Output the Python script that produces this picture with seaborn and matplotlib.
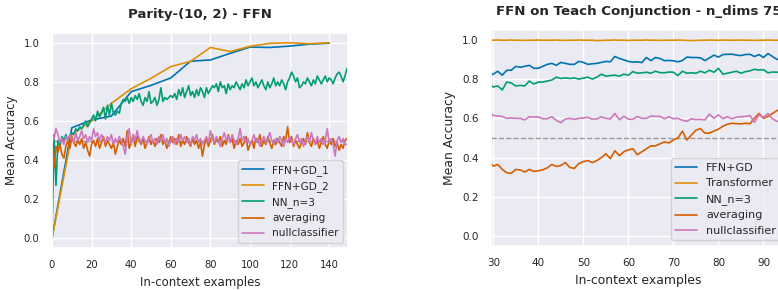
import numpy as np
import pandas as pd
import matplotlib
matplotlib.use("Agg")
import matplotlib.pyplot as plt
import seaborn as sns

# ---------------- Left panel data: Parity-(10, 2) - FFN ----------------
gd_x = [0, 10, 20, 30, 40, 50, 60, 70, 80, 90, 100, 110, 120, 130, 140]
ffn_gd_1 = [0.0, 0.565, 0.605, 0.625, 0.75, 0.782, 0.82, 0.906, 0.912, 0.946, 0.978, 0.976, 0.983, 0.993, 0.998]
ffn_gd_2 = [0.0, 0.53, 0.60, 0.69, 0.765, 0.818, 0.878, 0.905, 0.976, 0.955, 0.982, 0.997, 1.0, 0.995, 1.0]

left_x = list(range(150))
nn_left = [
    0.00, 0.53, 0.27, 0.50, 0.47, 0.52, 0.50, 0.53, 0.50, 0.52,
    0.54, 0.53, 0.56, 0.55, 0.57, 0.56, 0.58, 0.60, 0.57, 0.59,
    0.61, 0.63, 0.60, 0.65, 0.62, 0.64, 0.67, 0.61, 0.68, 0.63,
    0.69, 0.64, 0.63, 0.65, 0.64, 0.69, 0.71, 0.70, 0.72, 0.69,
    0.72, 0.70, 0.73, 0.71, 0.74, 0.70, 0.68, 0.72, 0.70, 0.75,
    0.69, 0.70, 0.72, 0.68, 0.71, 0.77, 0.70, 0.72, 0.71, 0.72,
    0.73, 0.72, 0.74, 0.71, 0.76, 0.73, 0.77, 0.72, 0.75, 0.78,
    0.73, 0.75, 0.72, 0.76, 0.73, 0.77, 0.75, 0.72, 0.77, 0.74,
    0.76, 0.78, 0.77, 0.79, 0.75, 0.80, 0.77, 0.78, 0.74, 0.79,
    0.76, 0.78, 0.77, 0.80, 0.78, 0.76, 0.79, 0.77, 0.81, 0.78,
    0.80, 0.82, 0.78, 0.80, 0.77, 0.79, 0.81, 0.78, 0.76, 0.80,
    0.77, 0.79, 0.82, 0.78, 0.80, 0.78, 0.81, 0.79, 0.76, 0.80,
    0.82, 0.85, 0.83, 0.80, 0.82, 0.77, 0.78, 0.80, 0.79, 0.82,
    0.80, 0.78, 0.81, 0.79, 0.83, 0.81, 0.79, 0.81, 0.83, 0.80,
    0.82, 0.81, 0.79, 0.82, 0.84, 0.85, 0.83, 0.80, 0.83, 0.87,
]
avg_left = [
    0.48, 0.36, 0.47, 0.44, 0.48, 0.43, 0.41, 0.47, 0.50, 0.46,
    0.52, 0.49, 0.47, 0.50, 0.48, 0.51, 0.46, 0.49, 0.45, 0.42,
    0.48, 0.50, 0.47, 0.51, 0.46, 0.49, 0.52, 0.47, 0.50, 0.48,
    0.46, 0.49, 0.43, 0.47, 0.50, 0.48, 0.51, 0.47, 0.55, 0.46,
    0.49, 0.53, 0.47, 0.52, 0.50, 0.48, 0.51, 0.46, 0.49, 0.52,
    0.48, 0.50, 0.47, 0.51, 0.49, 0.53, 0.48, 0.50, 0.46, 0.49,
    0.52, 0.49, 0.51, 0.48, 0.53, 0.47, 0.50, 0.48, 0.52, 0.49,
    0.47, 0.51, 0.48, 0.50, 0.46, 0.49, 0.42, 0.48, 0.51, 0.47,
    0.50, 0.53, 0.48, 0.51, 0.49, 0.52, 0.47, 0.50, 0.48, 0.53,
    0.49, 0.51, 0.46, 0.50, 0.48, 0.51, 0.47, 0.49, 0.52, 0.45,
    0.48, 0.50, 0.46, 0.51, 0.49, 0.53, 0.47, 0.50, 0.48, 0.52,
    0.49, 0.46, 0.50, 0.48, 0.51, 0.49, 0.47, 0.52, 0.50, 0.57,
    0.49, 0.52, 0.47, 0.50, 0.48, 0.46, 0.49, 0.51, 0.48, 0.54,
    0.49, 0.47, 0.51, 0.48, 0.50, 0.46, 0.49, 0.52, 0.48, 0.46,
    0.50, 0.48, 0.51, 0.47, 0.49, 0.45, 0.48, 0.46, 0.50, 0.51,
]
null_left = [
    0.49, 0.51, 0.56, 0.53, 0.49, 0.51, 0.48, 0.52, 0.50, 0.53,
    0.51, 0.49, 0.54, 0.50, 0.52, 0.55, 0.51, 0.53, 0.49, 0.52,
    0.50, 0.56, 0.52, 0.54, 0.50, 0.53, 0.51, 0.49, 0.52, 0.50,
    0.53, 0.48, 0.51, 0.49, 0.52, 0.50, 0.47, 0.43, 0.52, 0.56,
    0.48, 0.53, 0.50, 0.55, 0.51, 0.49, 0.52, 0.50, 0.48, 0.51,
    0.53, 0.49, 0.51, 0.48, 0.52, 0.50, 0.53, 0.49, 0.51, 0.47,
    0.50, 0.52, 0.48, 0.51, 0.49, 0.53, 0.50, 0.52, 0.49, 0.51,
    0.48, 0.52, 0.50, 0.53, 0.49, 0.51, 0.48, 0.50, 0.52, 0.49,
    0.55, 0.51, 0.49, 0.52, 0.50, 0.47, 0.51, 0.54, 0.50, 0.52,
    0.49, 0.53, 0.50, 0.48, 0.51, 0.56, 0.50, 0.52, 0.49, 0.51,
    0.48, 0.50, 0.53, 0.49, 0.51, 0.47, 0.50, 0.52, 0.49, 0.51,
    0.54, 0.50, 0.48, 0.51, 0.49, 0.52, 0.50, 0.47, 0.51, 0.49,
    0.52, 0.50, 0.48, 0.51, 0.53, 0.49, 0.51, 0.47, 0.50, 0.52,
    0.49, 0.54, 0.50, 0.48, 0.52, 0.49, 0.51, 0.48, 0.50, 0.56,
    0.49, 0.51, 0.48, 0.42, 0.50, 0.52, 0.49, 0.51, 0.48, 0.48,
]

# ---------------- Right panel data: FFN on Teach Conjunction ----------------
right_x = list(range(29, 96))
ffn_gd_r = [
    0.820, 0.825, 0.840, 0.820, 0.845, 0.845, 0.865, 0.860, 0.865, 0.870,
    0.855, 0.855, 0.865, 0.875, 0.880, 0.870, 0.885, 0.880, 0.875, 0.875,
    0.890, 0.885, 0.875, 0.878, 0.880, 0.885, 0.890, 0.888, 0.915, 0.905,
    0.898, 0.890, 0.886, 0.888, 0.884, 0.910, 0.894, 0.910, 0.905, 0.894,
    0.895, 0.893, 0.888, 0.895, 0.912, 0.910, 0.910, 0.908, 0.894, 0.908,
    0.922, 0.912, 0.925, 0.926, 0.927, 0.922, 0.920, 0.925, 0.926, 0.915,
    0.925, 0.910, 0.930, 0.915, 0.900, 0.905, 0.910,
]
transformer_r = [
    0.998, 0.998, 0.999, 0.998, 0.998, 0.999, 0.998, 0.998, 0.997, 0.998,
    0.998, 0.999, 0.998, 0.998, 0.998, 0.999, 0.998, 0.997, 0.998, 0.998,
    0.999, 0.998, 0.998, 0.998, 0.996, 0.997, 0.998, 0.998, 0.999, 0.998,
    0.998, 0.997, 0.998, 0.998, 0.998, 0.999, 0.998, 0.998, 0.997, 0.998,
    0.998, 0.998, 0.999, 0.998, 0.997, 0.996, 0.997, 0.998, 0.998, 0.999,
    0.998, 0.998, 0.999, 0.998, 0.998, 0.998, 0.999, 0.998, 0.998, 0.997,
    0.998, 0.998, 0.999, 0.998, 0.998, 0.998, 0.998,
]
nn_r = [
    0.775, 0.760, 0.765, 0.745, 0.785, 0.780, 0.765, 0.768, 0.765, 0.790,
    0.775, 0.785, 0.785, 0.790, 0.795, 0.810, 0.803, 0.806, 0.803, 0.806,
    0.800, 0.805, 0.810, 0.800, 0.810, 0.825, 0.815, 0.818, 0.820, 0.815,
    0.825, 0.820, 0.838, 0.830, 0.832, 0.835, 0.830, 0.840, 0.833, 0.832,
    0.836, 0.835, 0.818, 0.840, 0.830, 0.832, 0.830, 0.840, 0.832, 0.845,
    0.835, 0.855, 0.825, 0.830, 0.835, 0.840, 0.830, 0.838, 0.842, 0.850,
    0.846, 0.848, 0.832, 0.836, 0.835, 0.838, 0.836,
]
avg_r = [
    0.382, 0.357, 0.365, 0.340, 0.323, 0.320, 0.340, 0.337, 0.327, 0.340,
    0.330, 0.333, 0.338, 0.348, 0.365, 0.355, 0.360, 0.375, 0.350, 0.345,
    0.370, 0.380, 0.385, 0.375, 0.385, 0.400, 0.420, 0.395, 0.435, 0.410,
    0.430, 0.440, 0.445, 0.415, 0.430, 0.445, 0.460, 0.460, 0.470, 0.480,
    0.475, 0.490, 0.500, 0.535, 0.490, 0.515, 0.540, 0.548, 0.525, 0.525,
    0.535, 0.545, 0.560, 0.570, 0.575, 0.573, 0.572, 0.575, 0.573, 0.600,
    0.625, 0.600, 0.610, 0.625, 0.640, 0.650, 0.655,
]
null_r = [
    0.635, 0.615, 0.612, 0.610, 0.600, 0.602, 0.600, 0.600, 0.592, 0.608,
    0.607, 0.607, 0.598, 0.598, 0.608, 0.590, 0.578, 0.597, 0.600, 0.595,
    0.600, 0.602, 0.605, 0.596, 0.597, 0.608, 0.600, 0.597, 0.625, 0.593,
    0.610, 0.596, 0.595, 0.610, 0.600, 0.600, 0.612, 0.610, 0.610, 0.598,
    0.608, 0.598, 0.600, 0.590, 0.585, 0.598, 0.594, 0.595, 0.592, 0.622,
    0.600, 0.618, 0.598, 0.608, 0.598, 0.606, 0.608, 0.610, 0.614, 0.580,
    0.618, 0.605, 0.625, 0.598, 0.585, 0.587, 0.590,
]

left_title = "Parity-(10, 2) - FFN"
right_title = "FFN on Teach Conjunction - n_dims 75"
xlabel = "In-context examples"
ylabel = "Mean Accuracy"

sns.set_theme(style="darkgrid", palette="colorblind")
pal = sns.color_palette("colorblind")
c_blue, c_orange, c_green, c_red, c_pink = pal[0], pal[1], pal[2], pal[3], pal[4]

fig = plt.figure(figsize=(7.78, 2.9), dpi=100)
W, H = 778.0, 290.0
axL = fig.add_axes([52 / W, 1 - 248 / H, (348 - 52) / W, (248 - 33) / H])
axR = fig.add_axes([491 / W, 1 - 246 / H, (786 - 491) / W, (246 - 30) / H])

lw = 1.2

def draw(ax, series, fs_tick, fs_lab, fs_leg, fs_title, title, pad):
    ax.axhline(0.5, color="#999999", ls="--", lw=1.0, zorder=1)
    for x, y, lab, col in series:
        sns.lineplot(x=x, y=y, ax=ax, label=lab, color=col, lw=lw)
    ax.set_title(title, fontsize=fs_title, fontweight="bold", pad=pad, color="#262626")
    ax.set_xlabel(xlabel, fontsize=fs_lab, color="#262626")
    ax.set_ylabel(ylabel, fontsize=fs_lab, color="#262626")
    ax.tick_params(labelsize=fs_tick, colors="#262626", pad=3)
    ax.set_ylim(-0.05, 1.05)
    ax.set_yticks([0.0, 0.2, 0.4, 0.6, 0.8, 1.0])
    ax.legend(loc="lower right", fontsize=fs_leg)

draw(axL, [
    (gd_x, ffn_gd_1, "FFN+GD_1", c_blue),
    (gd_x, ffn_gd_2, "FFN+GD_2", c_orange),
    (left_x, nn_left, "NN_n=3", c_green),
    (left_x, avg_left, "averaging", c_red),
    (left_x, null_left, "nullclassifier", c_pink),
], 7.2, 8.5, 7.6, 9.5, left_title, 11)
axL.set_xlim(0, 149.5)
axL.set_xticks([0, 20, 40, 60, 80, 100, 120, 140])

draw(axR, [
    (right_x, ffn_gd_r, "FFN+GD", c_blue),
    (right_x, transformer_r, "Transformer", c_orange),
    (right_x, nn_r, "NN_n=3", c_green),
    (right_x, avg_r, "averaging", c_red),
    (right_x, null_r, "nullclassifier", c_pink),
], 7.5, 8.9, 8.0, 9.65, right_title, 11)
axR.set_xlim(29.5, 95)
axR.set_xticks([30, 40, 50, 60, 70, 80, 90])

fig.savefig("out.png", dpi=100)
